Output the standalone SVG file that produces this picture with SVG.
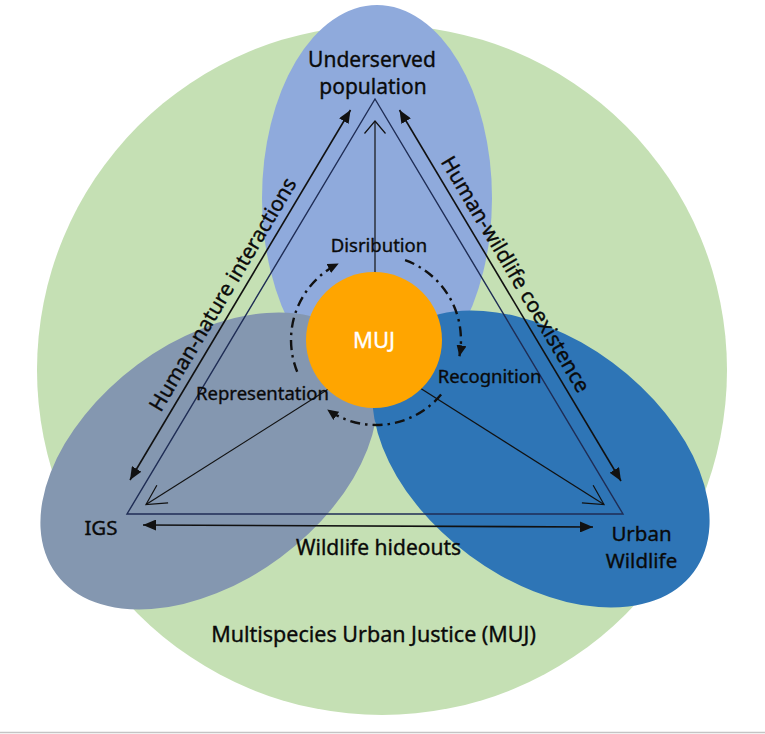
<svg xmlns="http://www.w3.org/2000/svg" width="765" height="734" viewBox="0 0 765 734">
  <style>
    text { font-family: "Noto Sans", "Open Sans", "Liberation Sans", sans-serif; fill: #0A0A0A; stroke: #0A0A0A; stroke-width: 0.35; text-anchor: middle; }
    .lbl { font-size: 21px; }
    .inner { font-size: 18.5px; }
    .tri { fill: none; stroke: #1F2D55; stroke-width: 1.4; stroke-linejoin: miter; }
    .rel { fill: none; stroke: #111111; stroke-width: 1.6; }
    .flow { fill: none; stroke: #111111; stroke-width: 1.2; }
    .cycle { fill: none; stroke: #111111; stroke-width: 2.4; stroke-dasharray: 10 5 2.5 5; }
  </style>
  <defs>
    <marker id="arrowF" viewBox="0 0 13 11" refX="13" refY="5.5" markerWidth="13" markerHeight="11" markerUnits="userSpaceOnUse" orient="auto-start-reverse">
      <path d="M0,0 L13,5.5 L0,11 z" fill="#111111"/>
    </marker>
    <marker id="arrowC" viewBox="0 0 11 10" refX="11" refY="5" markerWidth="11" markerHeight="10" markerUnits="userSpaceOnUse" orient="auto">
      <path d="M0,0 L11,5 L0,10 z" fill="#111111"/>
    </marker>
    <marker id="openV" viewBox="0 0 24 24" refX="21" refY="12" markerWidth="24" markerHeight="24" markerUnits="userSpaceOnUse" orient="auto">
      <path d="M1.5,1.5 L21,12 L1.5,22.5" fill="none" stroke="#111111" stroke-width="1.2"/>
    </marker>
    <marker id="openTop" viewBox="0 0 20 24" refX="17" refY="12" markerWidth="20" markerHeight="24" markerUnits="userSpaceOnUse" orient="auto">
      <path d="M4.5,1.5 L17,12 L4.5,22.5" fill="none" stroke="#111111" stroke-width="1.2"/>
    </marker>
  </defs>

  <rect x="0" y="0" width="765" height="734" fill="#FFFFFF"/>
  <line x1="0" y1="732.5" x2="765" y2="732.5" stroke="#C4C4C4" stroke-width="1.5"/>

  <g id="node-muj-frame">
    <circle cx="382" cy="370" r="345" fill="#C5E0B4"/>
    <text class="lbl" x="373.5" y="642" style="font-size:21.5px">Multispecies Urban Justice (MUJ)</text>
  </g>

  <g id="node-underserved-population">
    <ellipse cx="377" cy="198" rx="115" ry="193" fill="#8FAADC"/>
    <text class="lbl" x="372" y="67">Underserved</text>
    <text class="lbl" x="373" y="94">population</text>
  </g>

  <g id="node-igs">
    <ellipse cx="0" cy="0" rx="190" ry="120" fill="#8497B0" transform="translate(209,461) rotate(-36.5)"/>
    <text class="lbl" x="101" y="535" style="font-size:20.5px">IGS</text>
  </g>

  <g id="node-urban-wildlife">
    <ellipse cx="0" cy="0" rx="190" ry="120" fill="#2E75B6" transform="translate(541,459) rotate(36.5)"/>
    <text class="lbl" x="641.5" y="541" style="font-size:20.5px">Urban</text>
    <text class="lbl" x="641.5" y="568" style="font-size:20.5px">Wildlife</text>
  </g>

  <g id="connectors">
    <path class="tri" d="M375,99 L127,514 L623,514 Z"/>
    <line class="rel" x1="350.5" y1="110" x2="130" y2="480" marker-start="url(#arrowF)" marker-end="url(#arrowF)"/>
    <line class="rel" x1="399.5" y1="110" x2="621" y2="481" marker-start="url(#arrowF)" marker-end="url(#arrowF)"/>
    <line class="rel" x1="143" y1="525" x2="593" y2="527" marker-start="url(#arrowF)" marker-end="url(#arrowF)"/>
    <line class="flow" x1="375" y1="330" x2="375" y2="121" marker-end="url(#openTop)"/>
    <line class="flow" x1="345" y1="378.5" x2="146" y2="504.5" marker-end="url(#openV)"/>
    <line class="flow" x1="405" y1="378.5" x2="604" y2="504.5" marker-end="url(#openV)"/>
    <path class="cycle" d="M297.2,371.8 A85,85 0 0 1 338.7,263.6" marker-end="url(#arrowC)"/>
    <path class="cycle" d="M405.1,260.1 A85,85 0 0 1 459.4,356.2" marker-end="url(#arrowC)"/>
    <path class="cycle" d="M441.1,394.6 A85,85 0 0 1 327.2,409.6" marker-end="url(#arrowC)"/>
    <text class="lbl" transform="translate(229,298) rotate(-59.3)" x="0" y="0">Human-nature interactions</text>
    <text class="lbl" transform="translate(509.3,278) rotate(59.3)" x="0" y="0">Human-wildlife coexistence</text>
    <text class="lbl" x="378.5" y="555">Wildlife hideouts</text>
    <text class="inner" x="379" y="252">Disribution</text>
    <text class="inner" x="262.5" y="400">Representation</text>
    <text class="inner" x="489.5" y="383">Recognition</text>
  </g>

  <g id="node-muj">
    <circle cx="374" cy="340" r="68" fill="#FFA500"/>
    <text x="374" y="348" style="font-size:22px; fill:#FFFFFF; stroke:#FFFFFF">MUJ</text>
  </g>
</svg>
